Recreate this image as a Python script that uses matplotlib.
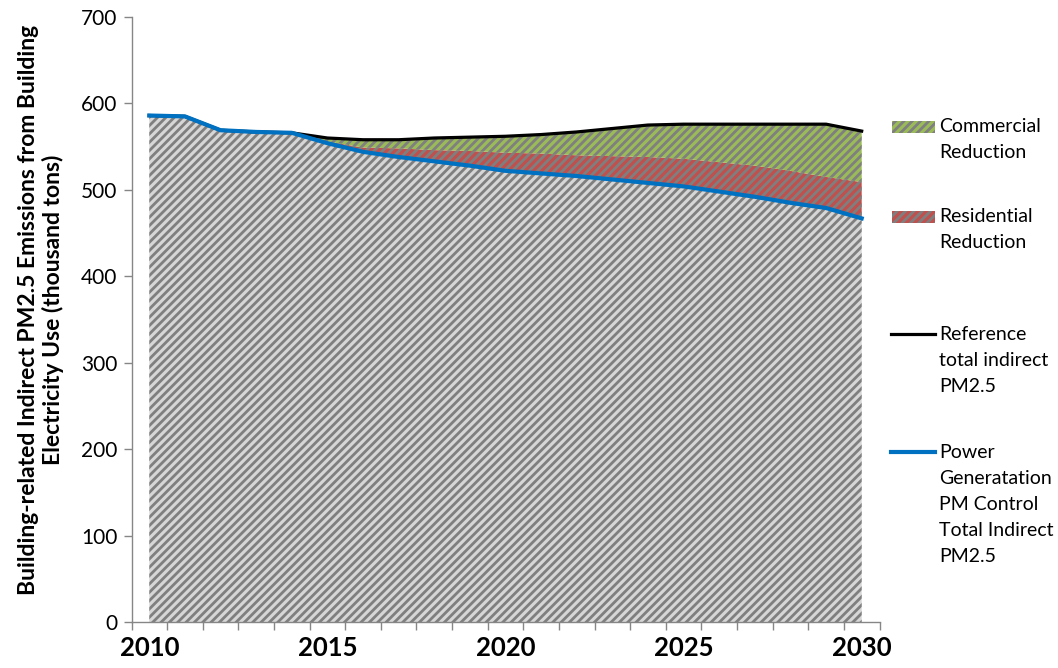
import matplotlib
matplotlib.use("Agg")
import matplotlib.pyplot as plt
from matplotlib.patches import Rectangle
from matplotlib.lines import Line2D
import numpy as np

plt.rcParams['font.family'] = ['Lato', 'DejaVu Sans']
plt.rcParams['hatch.linewidth'] = 2.0

# Building-related indirect PM2.5 emissions (thousand tons)
years = list(range(2010, 2031))
reference_total = [586, 585, 569, 567, 566, 560, 558, 558, 560, 561, 562,
                   564, 567, 571, 575, 576, 576, 576, 576, 576, 568]
power_control_total = [586, 585, 569, 567, 566, 554, 544, 538, 533, 528, 522,
                       519, 516, 512, 508, 504, 498, 492, 485, 479, 467]
residential_reduction = [0, 0, 0, 0, 0, 2, 5, 10, 13, 17, 21,
                         23, 24, 27, 30, 32, 34, 36, 37, 36, 42]
commercial_reduction = [0, 0, 0, 0, 0, 4, 9, 10, 14, 16, 19,
                        22, 27, 32, 37, 40, 44, 48, 54, 61, 59]
tick_years = [2010, 2015, 2020, 2025, 2030]

W, H = 1058, 668
fig = plt.figure(figsize=(W / 100, H / 100), dpi=100)
ax = fig.add_axes([131.5 / W, 46 / H, 748 / W, 605 / H])

x = np.arange(len(years))
base = np.array(power_control_total, dtype=float)
res_top = base + np.array(residential_reduction)
com_top = res_top + np.array(commercial_reduction)

hatch_gray = '#7f7f7f'
HATCH = '////'
ax.fill_between(x, 0, base, facecolor='#d6d6d6', edgecolor=hatch_gray,
                hatch=HATCH, linewidth=0, zorder=1)
ax.fill_between(x, base, res_top, facecolor='#c0504d', edgecolor=hatch_gray,
                hatch=HATCH, linewidth=0, zorder=1)
ax.fill_between(x, res_top, com_top, facecolor='#9bbb59', edgecolor=hatch_gray,
                hatch=HATCH, linewidth=0, zorder=1)

ax.plot(x, reference_total, color='black', lw=2.3, zorder=3,
        solid_joinstyle='round')
ax.plot(x, power_control_total, color='#0070c0', lw=3.0, zorder=4,
        solid_joinstyle='round')

ax.set_xlim(-0.5, len(years) - 0.5)
ax.set_ylim(0, 700)
ax.set_yticks(np.arange(0, 701, 100))

label_pos = [years.index(y) for y in tick_years]
ax.set_xticks(label_pos)
ax.set_xticklabels([str(y) for y in tick_years], fontsize=18.5, fontweight='bold')
ax.set_xticks(np.arange(-0.5, len(years), 1.0), minor=True)
ax.tick_params(axis='x', which='major', length=0, pad=10)
ax.tick_params(axis='x', which='minor', length=6, width=1, color='#868686',
               direction='out')
ax.tick_params(axis='y', length=6, width=1, color='#868686', direction='out',
               labelsize=15, pad=4)

for side in ('top', 'right'):
    ax.spines[side].set_visible(False)
for side in ('left', 'bottom'):
    ax.spines[side].set_color('#868686')
    ax.spines[side].set_linewidth(1)

fig.text(41 / W, 1 - 310 / H,
         'Building-related Indirect PM2.5 Emissions from Building\n'
         'Electricity Use (thousand tons)',
         rotation=90, ha='center', va='center', multialignment='center',
         fontsize=16.5, fontweight='bold', linespacing=1.2)

# Legend drawn beside the plot area, markers aligned with the first text line
def fy(py):
    return 1 - py / H

def add_patch_entry(py, face, lines, line_ys):
    fig.add_artist(Rectangle((892 / W, fy(py + 6)), 43 / W, 12 / H,
                             transform=fig.transFigure, facecolor=face,
                             edgecolor=hatch_gray, hatch=HATCH, linewidth=0))
    for t, ty in zip(lines, line_ys):
        fig.text(939 / W, fy(ty), t, ha='left', va='center', fontsize=14)

def add_line_entry(py, color, lw, lines, line_ys):
    fig.add_artist(Line2D([891 / W, 935 / W], [fy(py), fy(py)],
                          transform=fig.transFigure, color=color, lw=lw))
    for t, ty in zip(lines, line_ys):
        fig.text(939 / W, fy(ty), t, ha='left', va='center', fontsize=14)

add_patch_entry(127, '#9bbb59', ['Commercial', 'Reduction'], [127, 153])
add_patch_entry(217, '#c0504d', ['Residential', 'Reduction'], [217, 243])
add_line_entry(334, 'black', 2.3, ['Reference', 'total indirect', 'PM2.5'],
               [334, 361, 387])
add_line_entry(452, '#0070c0', 3.0,
               ['Power', 'Generatation', 'PM Control', 'Total Indirect', 'PM2.5'],
               [452, 478, 505, 531, 557])

fig.savefig('out.png', dpi=100)
